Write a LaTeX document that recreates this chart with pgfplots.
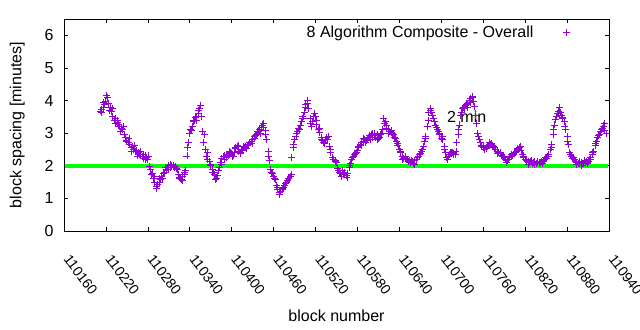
\documentclass[border=0pt]{standalone}
\usepackage{pgfplots}
\pgfplotsset{compat=1.18}
\usepackage{fontspec}
\setmainfont{Liberation Sans}
\definecolor{gpviolet}{HTML}{9400D3}
\definecolor{gpgreen}{HTML}{00FF00}
\begin{document}
\begin{tikzpicture}[font=\fontsize{16}{19}\selectfont]
\begin{axis}[
  scale only axis, width=545pt, height=212pt,
  xmin=110160, xmax=110940, ymin=0, ymax=6.5,
  xtick={110160,110220,110280,110340,110400,110460,110520,110580,110640,110700,110760,110820,110880,110940},
  xticklabels={110160,110220,110280,110340,110400,110460,110520,110580,110640,110700,110760,110820,110880,110940},
  ytick={0,1,2,3,4,5,6},
  yticklabels={0,1,2,3,4,5,6},
  scaled x ticks=false,
  tick align=inside, major tick length=4pt,
  tick style={black, line width=0.6pt},
  axis line style={black, line width=0.8pt},
  xticklabel style={font=\fontsize{14}{17}\selectfont, rotate=-53, anchor=north west, inner sep=0pt, xshift=22pt, yshift=-8pt},
  yticklabel style={xshift=-7pt},
  xlabel={block number},
  ylabel={block spacing [minutes]},
  xlabel style={at={(axis description cs:0.5,-0.401)}, anchor=center},
  ylabel style={at={(axis description cs:-0.086,0.5)}, anchor=center},
  legend plot pos=right,
  legend image code/.code={\draw[mark repeat=2,mark phase=2,#1] plot coordinates {(0pt,0pt) (16pt,0pt) (32pt,0pt)};},
  legend style={draw=none, fill=none, inner sep=0pt, outer sep=0pt, anchor=east, at={(rel axis cs:0.9292,0.937)}, nodes={inner sep=0pt}, /tikz/column sep=30pt},
]
\addplot[only marks, mark=+, mark size=3.5pt, color=gpviolet, mark options={line width=0.9pt}] table {
x y
110212 3.68
110214 3.72
110216 3.80
110218 3.88
110220 3.97
110222 4.08
110224 3.90
110226 3.78
110228 3.66
110230 3.52
110232 3.40
110234 3.46
110236 3.32
110238 3.28
110240 3.20
110242 3.14
110244 3.10
110246 2.96
110248 2.88
110250 2.78
110252 2.70
110254 2.66
110256 2.55
110258 2.58
110260 2.50
110262 2.44
110264 2.46
110266 2.40
110268 2.35
110270 2.30
110272 2.28
110274 2.22
110276 2.30
110278 2.25
110280 2.18
110282 1.98
110284 1.88
110286 1.76
110288 1.62
110290 1.50
110292 1.38
110294 1.42
110296 1.50
110298 1.58
110300 1.66
110302 1.75
110304 1.80
110306 1.88
110308 1.95
110310 2.00
110312 1.96
110314 2.02
110316 1.98
110318 1.95
110320 1.97
110322 1.88
110324 1.72
110326 1.60
110328 1.58
110330 1.66
110332 1.72
110334 1.85
110336 2.30
110338 2.70
110340 2.98
110342 3.08
110344 3.20
110346 3.40
110348 3.48
110350 3.52
110352 3.60
110354 3.75
110356 3.85
110358 3.05
110360 2.70
110362 2.50
110364 2.30
110366 2.20
110368 2.12
110370 2.02
110372 1.90
110374 1.80
110376 1.72
110378 1.62
110380 1.70
110382 1.95
110384 2.10
110386 2.22
110388 2.28
110390 2.20
110392 2.30
110394 2.35
110396 2.32
110398 2.42
110400 2.38
110402 2.30
110404 2.40
110406 2.52
110408 2.58
110410 2.45
110412 2.42
110414 2.50
110416 2.46
110418 2.55
110420 2.58
110422 2.62
110424 2.66
110426 2.70
110428 2.74
110430 2.80
110432 2.84
110434 2.92
110436 2.96
110438 3.05
110440 3.12
110442 3.18
110444 3.25
110446 3.18
110448 3.08
110450 2.82
110452 2.45
110454 2.15
110456 1.90
110458 1.75
110460 1.68
110462 1.58
110464 1.40
110466 1.28
110468 1.18
110470 1.22
110472 1.26
110474 1.32
110476 1.40
110478 1.48
110480 1.55
110482 1.62
110484 1.66
110486 2.25
110488 2.55
110490 2.80
110492 2.90
110494 3.05
110496 3.15
110498 3.25
110500 3.35
110502 3.50
110504 3.65
110506 3.88
110508 4.00
110510 3.75
110512 3.45
110514 3.20
110516 3.35
110518 3.60
110520 3.50
110522 3.28
110524 3.10
110526 3.02
110528 2.88
110530 2.78
110532 2.72
110534 2.80
110536 2.86
110538 2.90
110540 2.60
110542 2.40
110544 2.25
110546 2.18
110548 2.12
110550 2.10
110552 1.92
110554 1.80
110556 1.76
110558 1.85
110560 1.72
110562 1.78
110564 1.70
110566 1.75
110568 1.95
110570 2.08
110572 2.20
110574 2.30
110576 2.35
110578 2.42
110580 2.48
110582 2.55
110584 2.65
110586 2.72
110588 2.75
110590 2.80
110592 2.72
110594 2.85
110596 2.88
110598 2.82
110600 2.95
110602 3.00
110604 2.92
110606 2.88
110608 2.95
110610 2.85
110612 2.88
110614 3.00
110616 3.12
110618 3.30
110620 3.35
110622 3.15
110624 3.10
110626 3.05
110628 3.08
110630 2.98
110632 2.95
110634 2.85
110636 2.75
110638 2.62
110640 2.50
110642 2.40
110644 2.28
110646 2.22
110648 2.25
110650 2.18
110652 2.20
110654 2.15
110656 2.10
110658 2.12
110660 2.08
110662 2.15
110664 2.20
110666 2.25
110668 2.30
110670 2.38
110672 2.45
110674 2.58
110676 2.75
110678 2.90
110680 3.20
110682 3.62
110684 3.70
110686 3.65
110688 3.55
110690 3.35
110692 3.25
110694 3.12
110696 3.05
110698 2.95
110700 2.85
110702 2.80
110704 2.60
110706 2.40
110708 2.25
110710 2.30
110712 2.36
110714 2.40
110716 2.42
110718 2.38
110720 2.35
110722 2.70
110724 2.95
110726 3.25
110728 3.55
110730 3.75
110732 3.80
110734 3.85
110736 3.88
110738 3.92
110740 4.00
110742 4.05
110744 4.08
110746 3.98
110748 3.82
110750 3.30
110752 3.00
110754 2.80
110756 2.70
110758 2.62
110760 2.55
110762 2.50
110764 2.52
110766 2.60
110768 2.62
110770 2.66
110772 2.68
110774 2.60
110776 2.55
110778 2.50
110780 2.45
110782 2.42
110784 2.38
110786 2.33
110788 2.30
110790 2.25
110792 2.18
110794 2.15
110796 2.20
110798 2.25
110800 2.30
110802 2.33
110804 2.38
110806 2.42
110808 2.45
110810 2.50
110812 2.55
110814 2.48
110816 2.35
110818 2.25
110820 2.20
110822 2.15
110824 2.12
110826 2.10
110828 2.12
110830 2.08
110832 2.10
110834 2.12
110836 2.08
110838 2.10
110840 2.06
110842 2.10
110844 2.12
110846 2.14
110848 2.18
110850 2.22
110852 2.28
110854 2.35
110856 2.50
110858 2.65
110860 2.95
110862 3.25
110864 3.42
110866 3.60
110868 3.66
110870 3.62
110872 3.55
110874 3.45
110876 3.35
110878 3.10
110880 2.90
110882 2.65
110884 2.42
110886 2.30
110888 2.22
110890 2.18
110892 2.12
110894 2.10
110896 2.08
110898 2.06
110900 2.10
110902 2.08
110904 2.06
110906 2.10
110908 2.12
110910 2.12
110912 2.18
110914 2.25
110916 2.35
110918 2.45
110920 2.62
110922 2.75
110924 2.88
110926 2.95
110928 3.05
110930 3.15
110932 3.22
110934 3.08
110936 3.00
110213 3.62
110217 3.95
110221 4.15
110225 3.70
110229 3.75
110233 3.30
110237 3.40
110241 3.05
110245 3.20
110249 2.75
110253 2.85
110257 2.45
110261 2.62
110265 2.30
110269 2.45
110273 2.35
110277 2.20
110281 2.30
110285 1.72
110289 1.66
110293 1.30
110297 1.62
110301 1.60
110305 1.95
110309 1.90
110313 2.05
110317 2.00
110321 1.92
110325 1.65
110329 1.55
110333 1.80
110337 2.55
110341 3.10
110345 3.35
110349 3.40
110353 3.70
110357 3.50
110361 2.95
110365 2.40
110369 2.05
110373 1.80
110377 1.58
110381 1.85
110385 2.05
110389 2.30
110393 2.25
110397 2.45
110401 2.28
110405 2.55
110409 2.62
110413 2.38
110417 2.60
110421 2.52
110425 2.72
110429 2.68
110433 2.90
110437 3.05
110441 3.00
110445 3.30
110449 2.95
110453 2.30
110457 1.80
110461 1.62
110465 1.32
110469 1.12
110473 1.30
110477 1.45
110481 1.60
110485 1.72
110489 2.65
110493 3.00
110497 3.10
110501 3.45
110505 3.80
110509 3.90
110513 3.30
110517 3.52
110521 3.40
110525 3.15
110529 2.80
110533 2.68
110537 2.82
110541 2.50
110545 2.20
110549 2.15
110553 1.85
110557 1.68
110561 1.80
110565 1.65
110569 2.00
110573 2.25
110577 2.38
110581 2.58
110585 2.62
110589 2.85
110593 2.78
110597 2.92
110601 2.88
110605 3.00
110609 2.80
110613 2.95
110617 3.45
110621 3.25
110625 3.00
110629 3.02
110633 2.88
110637 2.68
110641 2.45
110645 2.20
110649 2.28
110653 2.12
110657 2.15
110661 2.05
110665 2.18
110669 2.35
110673 2.50
110677 2.85
110681 3.40
110685 3.75
110689 3.45
110693 3.18
110697 3.00
110701 2.90
110705 2.50
110709 2.20
110713 2.42
110717 2.35
110721 2.45
110725 3.10
110729 3.65
110733 3.75
110737 3.80
110741 3.95
110745 4.12
110749 3.55
110753 2.90
110757 2.60
110761 2.58
110765 2.55
110769 2.70
110773 2.62
110777 2.50
110781 2.38
110785 2.42
110789 2.28
110793 2.10
110797 2.28
110801 2.35
110805 2.40
110809 2.52
110813 2.60
110817 2.30
110821 2.18
110825 2.05
110829 2.15
110833 2.05
110837 2.12
110841 2.10
110845 2.08
110849 2.25
110853 2.30
110857 2.55
110861 3.10
110865 3.52
110869 3.80
110873 3.48
110877 3.20
110881 2.75
110885 2.35
110889 2.25
110893 2.05
110897 2.12
110901 2.02
110905 2.15
110909 2.08
110913 2.20
110917 2.42
110921 2.68
110925 2.92
110929 3.10
110933 3.30
};
\addlegendentry{8 Algorithm Composite - Overall}
\addplot[gpgreen, line width=4.5pt, forget plot] coordinates {(110162,2) (110938,2)};
\node[anchor=west, inner sep=0pt] at (axis cs:110708,3.49) {2 min};
\end{axis}
\pgfresetboundingbox
\path ([xshift=-64pt,yshift=-99pt]current axis.south west) rectangle ([xshift=31pt,yshift=19pt]current axis.north east);
\end{tikzpicture}
\end{document}
